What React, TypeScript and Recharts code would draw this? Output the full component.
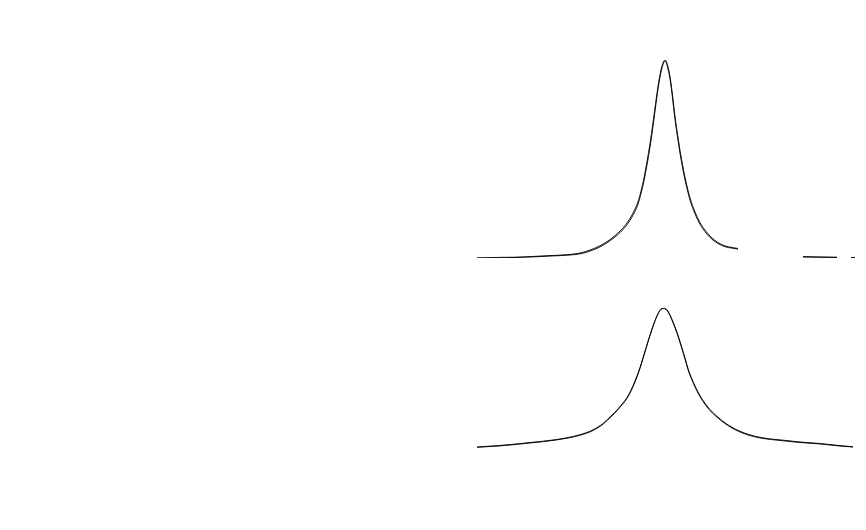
import React from "react";
import { LineChart, Line, XAxis, YAxis } from "recharts";

// Upper panel: narrow peak (channel positions and normalised intensity)
const topX = [477, 500, 530, 550, 570, 580, 590, 600, 605, 610, 615, 620, 625, 630, 634, 638, 641, 644, 647, 650, 653, 656, 659, 662, 665, 668, 670, 672, 675, 678, 680, 683, 685, 688, 690, 695, 700, 705, 710, 718, 725, 732, 738, 745, 800, 803, 820, 837, 845, 851, 853, 855];
const topMeasured = [0, 0.3, 0.5, 1.0, 1.5, 2.1, 3.5, 5.6, 7.0, 8.7, 10.6, 12.8, 15.5, 19.0, 22.6, 27.2, 32.5, 39, 47, 56, 66.5, 78, 88.5, 96, 99.5, 95.5, 90.5, 83, 70, 59.5, 53, 44.5, 39.5, 33, 29.3, 22.3, 17.0, 13.3, 10.4, 7.3, 5.7, 5.0, 4.5, null, null, 0.5, 0.4, 0.25, null, 0, 0, 0];
const topFit = [0, 0, 0.7, 1.2, 1.8, 2.5, 4.0, 6.2, 7.6, 9.3, 11.3, 13.6, 16.4, 20.0, 23.7, 28.4, 33.8, 40.5, 48.8, 57.8, 68.3, 79.6, 89.8, 97, 100, 96.5, 91.6, 84.3, 71.4, 60.9, 54.3, 45.8, 40.7, 34.2, 30.4, 23.3, 17.9, 14.1, 11.1, 7.8, 6.1, 5.3, 4.8, null, null, 0.7, 0.5, 0.4, null, 0.2, 0.2, 0.2];

// Lower panel: broad peak
const botX = [477, 500, 530, 555, 567, 580, 593, 603, 612, 617, 621, 625, 629, 633, 637, 640, 643, 646, 649, 652, 655, 658, 661, 663, 666, 670, 673, 677, 681, 685, 688, 692, 698, 707, 718, 732, 748, 763, 780, 800, 820, 840, 853];
const botMeasured = [0.7, 1.8, 3.9, 5.9, 7.3, 9.5, 13.0, 17.5, 23.6, 27.1, 30.5, 34, 38.5, 44.5, 51.5, 57.5, 64.5, 71.5, 78.5, 85, 91, 96, 99.2, 100, 99, 94.5, 89.5, 82, 73, 63.5, 56, 48.5, 39.3, 29.3, 21.4, 14.3, 9.3, 6.8, 5.4, 3.9, 2.9, 1.4, 0.7];
const botFit = [0.5, 1.5, 3.6, 5.6, 7.0, 9.1, 12.5, 17.0, 23.0, 26.6, 30.0, 33.4, 37.9, 43.8, 50.8, 56.9, 63.9, 71.0, 78.1, 84.7, 90.8, 95.8, 99.0, 99.7, 99.3, 95.0, 90.1, 82.7, 73.7, 64.3, 56.8, 49.2, 40.0, 30.0, 22.0, 14.8, 9.8, 7.2, 5.8, 4.3, 3.2, 1.7, 0.9];

const topData = topX.map((x, i) => ({ x, m: topMeasured[i], f: topFit[i] }));
const botData = botX.map((x, i) => ({ x, m: botMeasured[i], f: botFit[i] }));

function Panel({ data, height, margin }: { data: any[]; height: number; margin: any }) {
  return (
    <LineChart width={866} height={height} data={data} margin={margin} style={{ display: "block" }}>
      <XAxis dataKey="x" type="number" domain={[0, 866]} hide />
      <YAxis type="number" domain={[0, 100]} hide allowDataOverflow />
      <Line dataKey="m" type="monotone" stroke="#000" strokeWidth={0.9} dot={false} isAnimationActive={false} connectNulls={false} />
      <Line dataKey="f" type="monotone" stroke="#000" strokeWidth={0.9} dot={false} isAnimationActive={false} connectNulls={false} />
    </LineChart>
  );
}

export default function App() {
  return (
    <div style={{ position: "absolute", left: 0, top: 0, width: 866, height: 530, background: "#fff" }}>
      <Panel data={topData} height={265} margin={{ top: 60, bottom: 7, left: 0, right: 0 }} />
      <Panel data={botData} height={265} margin={{ top: 43, bottom: 82, left: 0, right: 0 }} />
    </div>
  );
}
